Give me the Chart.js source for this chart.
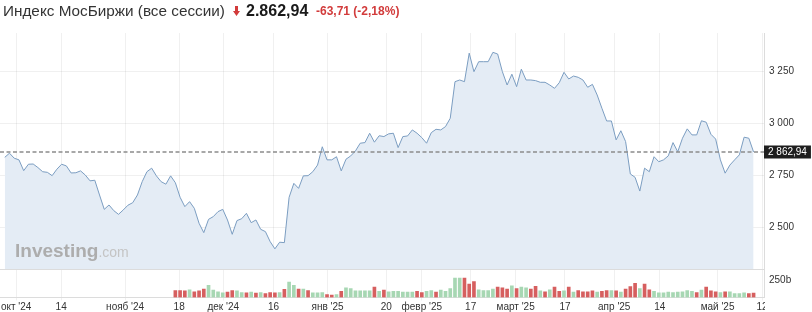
<!DOCTYPE html>
<html lang="ru">
<head>
<meta charset="utf-8">
<script src="https://cdn.jsdelivr.net/npm/chart.js@4.4.1/dist/chart.umd.min.js"></script>
<style>
  html, body { margin: 0; padding: 0; background: #fff; }
  #wrap { position: relative; width: 812px; height: 312px; overflow: hidden; font-family: "Liberation Sans", Arial, sans-serif; }
  #wrap canvas { position: absolute; left: 0; top: 0; }
  .hd { position: absolute; top: 0; height: 22px; line-height: 22px; white-space: nowrap; }
  #name { left: 3px; font-size: 15.3px; color: #333; }
  #arrow { position: absolute; left: 233px; top: 6px; }
  #last { left: 246px; font-size: 16px; font-weight: bold; color: #1a1a1a; }
  #chg { left: 316px; font-size: 12px; font-weight: bold; color: #d23b3b; }
</style>
</head>
<body>
<div id="wrap">
  <canvas id="moexChart" width="812" height="312"></canvas>
  <span class="hd" id="name">Индекс МосБиржи (все сессии)</span>
  <svg id="arrow" width="7" height="10" viewBox="0 0 7 10"><path d="M2 0h3v5h2L3.5 10 0 5h2z" fill="#d23b3b"/></svg>
  <span class="hd" id="last">2.862,94</span>
  <span class="hd" id="chg">-63,71 (-2,18%)</span>
</div>
<script>
// daily closes, one per trading session (late Sep 2024 .. mid May 2025)
const priceValues = [
  2837, 2857, 2833, 2825, 2773, 2804, 2805, 2788, 2768, 2765,
  2749, 2780, 2804, 2796, 2762, 2763, 2772, 2752, 2724, 2727,
  2656, 2587, 2608, 2581, 2563, 2584, 2607, 2619, 2656, 2720,
  2768, 2785, 2748, 2720, 2708, 2748, 2715, 2645, 2600,
  2624, 2592, 2520, 2475, 2539, 2552, 2576, 2587, 2536, 2467,
  2533, 2542, 2568, 2523, 2536, 2491, 2480, 2432, 2397, 2429,
  2427, 2645, 2712, 2688, 2748, 2749, 2768, 2800, 2888, 2825,
  2825, 2840, 2772, 2828, 2844, 2868, 2905, 2908, 2953, 2910,
  2941, 2937, 2950, 2953, 2884, 2937, 2940, 2969, 2953, 2932,
  2905, 2956, 2972, 2969, 2985, 3025, 3201, 3209, 3201, 3338,
  3249, 3297, 3297, 3297, 3342, 3334, 3249, 3185, 3237, 3177,
  3261, 3209, 3209, 3206, 3198, 3198, 3185, 3169, 3196, 3246,
  3214, 3228, 3222, 3209,
  3174, 3188, 3137, 3073, 3012, 3012, 2921, 2965, 2913, 2757,
  2741, 2675, 2785, 2768, 2840, 2816, 2825, 2844, 2908, 2864,
  2929, 2974, 2945, 2945, 3013, 3006, 2948, 2925, 2825, 2761,
  2800, 2825, 2849, 2934, 2929, 2863
];
const lastPrice = 2862.94;

// volume only exists from session index 36 on
const volumeStart = 36;
const volumeValues = [
  103, 103, 98, 115, 86, 98, 126, 182, 109, 86,
  70, 80, 103, 98, 74, 70, 80, 64, 74, 58,
  74, 70, 74, 121, 230, 182, 126, 126, 103, 70,
  70, 74, 45, 35, 45, 91, 144, 132, 98, 98,
  98, 98, 155, 91, 109, 86, 91, 91, 80, 80,
  80, 91, 74, 91, 103, 80, 109, 91, 132, 288,
  288, 288, 201, 235, 115, 103, 103, 126, 155, 144,
  126, 173, 132, 155, 144, 126, 167, 98, 86, 115,
  155, 91, 98, 155, 80, 103, 86, 86, 98, 80,
  91, 103, 103, 98, 80, 126, 161, 212, 132, 201,
  115, 91, 70, 70, 80, 74, 80, 86, 103, 91,
  74, 109, 155, 98, 86, 74, 86, 86, 58, 58,
  70, 58, 64
];
// u = up session, d = down session
const volumeDir = (
  'd d d u d d d u u u ' + 'u d d u u d u d u d ' + 'd d u d u u d u d u ' +
  'u u d d u d u u u u ' + 'u u d u d u u u u u ' + 'u d d u u d u u u u ' +
  'u d d d u u u u d d ' + 'd u d u u d d u d u ' + 'd d u d u d d d d u ' +
  'd d u d u d d d u d ' + 'd u u u u u u u u u ' + 'd u d d d u d u u u ' +
  'u d d'
).split(' ');

const priceTicks = [2500, 2750, 3000, 3250];
const volumeTicks = [250];
const dateTickIdx = [2.4, 11.9, 25.4, 36.8, 46.1, 56.7, 68.1, 80.5, 88.0, 98.3, 107.8, 118.2, 128.6, 138.2, 150.4, 159.8];
const dateTickLabels = ["окт '24", '14', "нояб '24", '18', "дек '24", '16', "янв '25", '20', "февр '25", '17', "март '25", '17', "апр '25", '14', "май '25", '12'];

const fmtNum = v => String(v).replace(/\B(?=(\d{3})+(?!\d))/g, ' ');

const GRID = 'rgba(0,0,0,0.06)';
const EDGE = '#dcdcdc';

const decor = {
  id: 'decor',
  afterDatasetsDraw(chart) {
    const { ctx, chartArea: a, scales } = chart;
    ctx.save();
    // watermark
    ctx.textBaseline = 'alphabetic';
    ctx.font = 'bold 19px "Liberation Sans", Arial, sans-serif';
    ctx.fillStyle = '#adadad';
    ctx.fillText('Investing', 15, 257);
    const w = ctx.measureText('Investing').width;
    ctx.font = '14px "Liberation Sans", Arial, sans-serif';
    ctx.fillStyle = '#c4c4c4';
    ctx.fillText('.com', 15 + w, 257);
    // separator between price and volume panes
    ctx.strokeStyle = EDGE;
    ctx.lineWidth = 1;
    ctx.beginPath();
    ctx.moveTo(a.left, Math.round(scales.y.bottom) + 0.5);
    ctx.lineTo(a.right, Math.round(scales.y.bottom) + 0.5);
    ctx.stroke();
    // last price line
    const py = scales.y.getPixelForValue(lastPrice);
    ctx.strokeStyle = '#8c8c8c';
    ctx.lineWidth = 1.6;
    ctx.setLineDash([4, 2.5]);
    ctx.beginPath();
    ctx.moveTo(a.left, py);
    ctx.lineTo(a.right, py);
    ctx.stroke();
    ctx.restore();
  },
  afterDraw(chart) {
    const { ctx, chartArea: a, scales } = chart;
    ctx.save();
    // hide the part of the last date label that runs under the price axis
    ctx.fillStyle = '#fff';
    ctx.fillRect(a.right + 1, scales.x.top + 1, chart.width - a.right, chart.height);
    // last price tag
    const py = scales.y.getPixelForValue(lastPrice);
    const txt = fmtNum(Math.floor(lastPrice)) + ',' + lastPrice.toFixed(2).split('.')[1];
    ctx.font = '10px "Liberation Sans", Arial, sans-serif';
    const tw = ctx.measureText(txt).width;
    ctx.fillStyle = '#1e1e1e';
    ctx.fillRect(a.right, Math.round(py) - 6.5, tw + 8, 13);
    ctx.fillStyle = '#fff';
    ctx.textBaseline = 'middle';
    ctx.fillText(txt, a.right + 4, Math.round(py));
    ctx.restore();
  }
};

Chart.defaults.font.family = '"Liberation Sans", Arial, sans-serif';

new Chart(document.getElementById('moexChart').getContext('2d'), {
  data: {
    datasets: [
      {
        type: 'line',
        data: priceValues.map((v, i) => ({ x: i, y: v })),
        xAxisID: 'x',
        yAxisID: 'y',
        borderColor: '#7b9dc1',
        borderWidth: 1,
        backgroundColor: '#e4ecf5',
        fill: 'start',
        pointRadius: 0,
        tension: 0,
        order: 1
      },
      {
        type: 'bar',
        data: volumeValues.map((v, i) => ({ x: volumeStart + i, y: v })),
        xAxisID: 'x',
        yAxisID: 'yv',
        backgroundColor: volumeDir.map(d => d === 'u' ? '#a7d7b3' : '#d65f5f'),
        barThickness: 3,
        order: 2
      }
    ]
  },
  options: {
    responsive: false,
    animation: false,
    layout: { padding: { top: 33, left: 0, right: 0, bottom: 0 } },
    plugins: { legend: { display: false }, tooltip: { enabled: false } },
    scales: {
      x: {
        type: 'linear',
        offset: false,
        min: -1,
        max: 160.2,
        afterBuildTicks: s => { s.ticks = dateTickIdx.map(v => ({ value: v })); },
        afterFit: s => { s.height = 14.5; s.paddingLeft = 0; s.paddingRight = 0; },
        ticks: {
          autoSkip: false,
          maxRotation: 0,
          padding: 1,
          color: '#333',
          font: { size: 10 },
          callback: (v, i) => dateTickLabels[i]
        },
        grid: { color: GRID, tickLength: 3, offset: false },
        border: { color: EDGE }
      },
      y: {
        type: 'linear',
        position: 'right',
        stack: 'r',
        stackWeight: 236,
        min: 2298,
        max: 3435,
        afterBuildTicks: s => { s.ticks = priceTicks.map(v => ({ value: v })); },
        afterFit: s => { s.width = 48; s.paddingTop = 0; s.paddingBottom = 0; },
        ticks: { padding: 5, color: '#333', font: { size: 10 }, callback: v => fmtNum(v) },
        grid: { color: GRID, drawTicks: false },
        border: { color: EDGE }
      },
      yv: {
        type: 'linear',
        position: 'right',
        stack: 'r',
        stackWeight: 28,
        min: 0,
        max: 417,
        afterBuildTicks: s => { s.ticks = volumeTicks.map(v => ({ value: v })); },
        afterFit: s => { s.width = 48; s.paddingTop = 0; s.paddingBottom = 0; },
        ticks: { padding: 5, color: '#333', font: { size: 10 }, callback: v => v + 'b' },
        grid: { display: false, drawTicks: false },
        border: { color: EDGE }
      }
    }
  },
  plugins: [decor]
});
</script>
</body>
</html>
